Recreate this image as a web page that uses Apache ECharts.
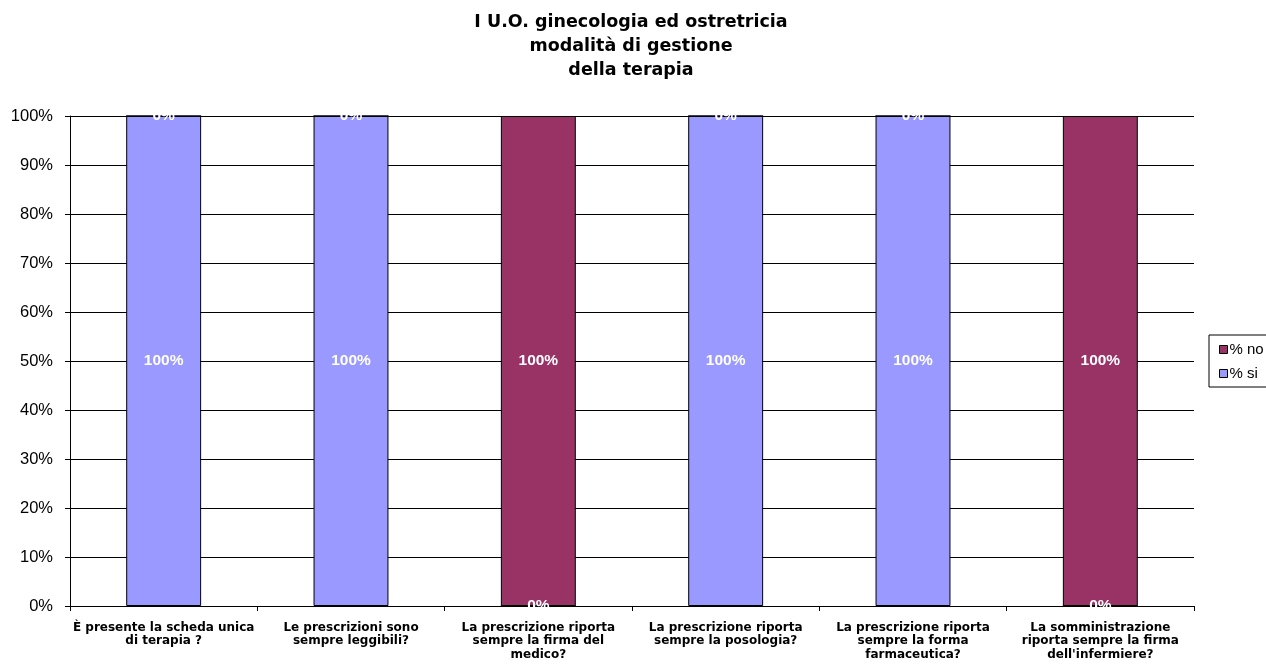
<!DOCTYPE html>
<html><head><meta charset="utf-8">
<script src="https://cdn.jsdelivr.net/npm/echarts@6/dist/echarts.min.js"></script>
<style>html,body{margin:0;padding:0;background:#fff}#c{width:1266px;height:668px}</style>
</head><body><div id="c"></div>
<script>
const titleText = "I U.O. ginecologia ed ostretricia\nmodalità di gestione\ndella terapia";
const categories = [
  "È presente la scheda unica\ndi terapia ?",
  "Le prescrizioni sono\nsempre leggibili?",
  "La prescrizione riporta\nsempre la firma del\nmedico?",
  "La prescrizione riporta\nsempre la posologia?",
  "La prescrizione riporta\nsempre la forma\nfarmaceutica?",
  "La somministrazione\nriporta sempre la firma\ndell'infermiere?"
];
const siValues = [100, 100, 0, 100, 100, 0];
const noValues = [0, 0, 100, 0, 0, 100];

const chart = echarts.init(document.getElementById('c'));
const labelStyle = {show: true, position: 'inside', color: '#fff', fontWeight: 'bold', fontFamily: 'Arial, Liberation Sans', fontSize: 15.5, formatter: '{c}%'};
chart.setOption({
  animation: false,
  title: {text: titleText, left: 631, top: 10, textAlign: 'center', padding: 0,
    textStyle: {fontFamily: 'DejaVu Sans', fontWeight: 'bold', fontSize: 17.5, color: '#000', lineHeight: 24}},
  legend: {orient: 'vertical', left: 1209, top: 335, data: ['% no', '% si'],
    icon: 'rect', itemWidth: 8, itemHeight: 8, itemGap: 9, padding: [7, 6, 6, 10],
    borderColor: '#000', borderWidth: 1,
    itemStyle: {borderColor: '#000', borderWidth: 1},
    textStyle: {fontFamily: 'Arial, Liberation Sans', fontSize: 15, color: '#000', padding: [0,0,0,-3]}},
  grid: {left: 70, right: 72, top: 116, bottom: 62},
  xAxis: {type: 'category', data: categories,
    axisLine: {lineStyle: {color: '#000', width: 1}},
    axisTick: {show: true, length: 5, lineStyle: {color: '#000'}},
    axisLabel: {interval: 0, margin: 15, fontFamily: 'DejaVu Sans', fontWeight: 'bold', fontSize: 12, color: '#000', lineHeight: 13.5}},
  yAxis: {type: 'value', min: 0, max: 100, interval: 10,
    axisLine: {show: true, lineStyle: {color: '#000'}},
    axisTick: {show: true, length: 5, lineStyle: {color: '#000'}},
    splitLine: {lineStyle: {color: '#000', width: 1}},
    axisLabel: {formatter: '{value}%', fontFamily: 'Arial, Liberation Sans', fontSize: 16.5, color: '#000', margin: 17}},
  series: [
    {name: '% si', type: 'bar', stack: 's', data: siValues, barWidth: '40%',
      itemStyle: {color: '#9999FF', borderColor: '#000', borderWidth: 1}, label: labelStyle},
    {name: '% no', type: 'bar', stack: 's', data: noValues, barWidth: '40%',
      itemStyle: {color: '#993366', borderColor: '#000', borderWidth: 1}, label: labelStyle}
  ]
});
</script></body></html>
